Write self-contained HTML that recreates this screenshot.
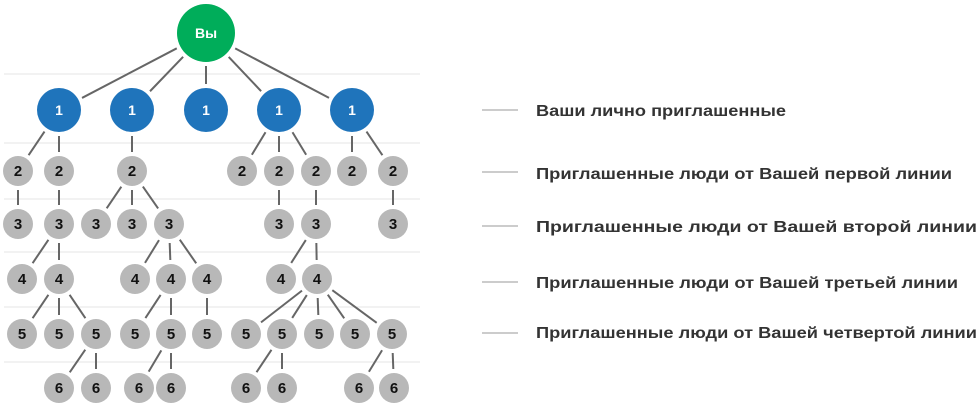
<!DOCTYPE html>
<html><head><meta charset="utf-8"><style>
html,body{margin:0;padding:0;background:#fff;width:978px;height:407px;overflow:hidden}
svg text{font-family:"Liberation Sans","DejaVu Sans",sans-serif}
</style></head><body>
<svg id="s" width="978" height="407" viewBox="0 0 978 407" xmlns="http://www.w3.org/2000/svg">
<g stroke="#e6e6e6" stroke-width="1">
<line x1="4" y1="74" x2="420" y2="74"/><line x1="4" y1="143" x2="420" y2="143"/>
<line x1="4" y1="199" x2="420" y2="199"/><line x1="4" y1="252" x2="420" y2="252"/>
<line x1="4" y1="307" x2="420" y2="307"/><line x1="4" y1="362" x2="420" y2="362"/>
</g>
<g stroke="#999" stroke-width="1">
<line x1="482" y1="110" x2="518" y2="110"/><line x1="482" y1="172" x2="518" y2="172"/>
<line x1="482" y1="226" x2="518" y2="226"/><line x1="482" y1="282" x2="518" y2="282"/>
<line x1="482" y1="333" x2="518" y2="333"/>
</g>
<g fill="#333" font-size="16" font-weight="bold" lengthAdjust="spacingAndGlyphs">
<text x="536" y="116" textLength="250" lengthAdjust="spacingAndGlyphs">Ваши лично приглашенные</text>
<text x="536" y="179" textLength="416" lengthAdjust="spacingAndGlyphs">Приглашенные люди от Вашей первой линии</text>
<text x="536" y="232" textLength="441" lengthAdjust="spacingAndGlyphs">Приглашенные люди от Вашей второй линии</text>
<text x="536" y="288" textLength="422" lengthAdjust="spacingAndGlyphs">Приглашенные люди от Вашей третьей линии</text>
<text x="536" y="338" textLength="441" lengthAdjust="spacingAndGlyphs">Приглашенные люди от Вашей четвертой линии</text>
</g>
<g id="edges" stroke="#666" stroke-width="2"></g>
<g id="nodes"></g>
</svg>
<script>
var L={0:{y:33,r:29,xs:[206]},1:{y:110,r:22,xs:[59,132,206,279,352]},
2:{y:171,r:15,xs:[18,59,132,242,279,316,352,393]},
3:{y:224,r:15,xs:[18,59,96,132,169,279,316,393]},
4:{y:279,r:15,xs:[22,59,135,171,207,281,317]},
5:{y:334,r:15,xs:[22,59,96,135,171,207,246,282,319,355,392]},
6:{y:388,r:15,xs:[59,96,139,171,246,282,359,394]}};
var E=[[0,206,[59,132,206,279,352]],[1,59,[18,59]],[1,132,[132]],[1,279,[242,279,316]],[1,352,[352,393]],
[2,18,[18]],[2,59,[59]],[2,132,[96,132,169]],[2,279,[279]],[2,316,[316]],[2,393,[393]],
[3,59,[22,59]],[3,169,[135,171,207]],[3,316,[281,317]],
[4,59,[22,59,96]],[4,171,[135,171]],[4,207,[207]],[4,317,[246,282,319,355,392]],
[5,96,[59,96]],[5,171,[139,171]],[5,282,[246,282]],[5,392,[359,394]]];
var ns="http://www.w3.org/2000/svg",eg=document.getElementById('edges'),ng=document.getElementById('nodes');
E.forEach(function(e){var a=L[e[0]],b=L[e[0]+1];e[2].forEach(function(x2){
var x1=e[1],y1=a.y,y2=b.y,dx=x2-x1,dy=y2-y1,d=Math.sqrt(dx*dx+dy*dy),s1=(a.r+4)/d,s2=(b.r+4)/d;
var l=document.createElementNS(ns,'line');l.setAttribute('x1',x1+dx*s1);l.setAttribute('y1',y1+dy*s1);
l.setAttribute('x2',x2-dx*s2);l.setAttribute('y2',y2-dy*s2);eg.appendChild(l);});});
for(var k=0;k<=6;k++){var o=L[k];o.xs.forEach(function(x){
var c=document.createElementNS(ns,'circle');c.setAttribute('cx',x);c.setAttribute('cy',o.y);c.setAttribute('r',o.r);
c.setAttribute('fill',k==0?'#00ad5a':k==1?'#1f74bb':'#b8b8b8');ng.appendChild(c);
var t=document.createElementNS(ns,'text');t.setAttribute('x',x);t.setAttribute('y',o.y+(k==0?5:5));
t.setAttribute('text-anchor','middle');t.setAttribute('font-weight','bold');
t.setAttribute('font-size',k==0?'14':k==1?'14':'15');t.setAttribute('fill',k<2?'#fff':'#111');
t.textContent=k==0?'Вы':String(k);ng.appendChild(t);});}
</script>
</body></html>
